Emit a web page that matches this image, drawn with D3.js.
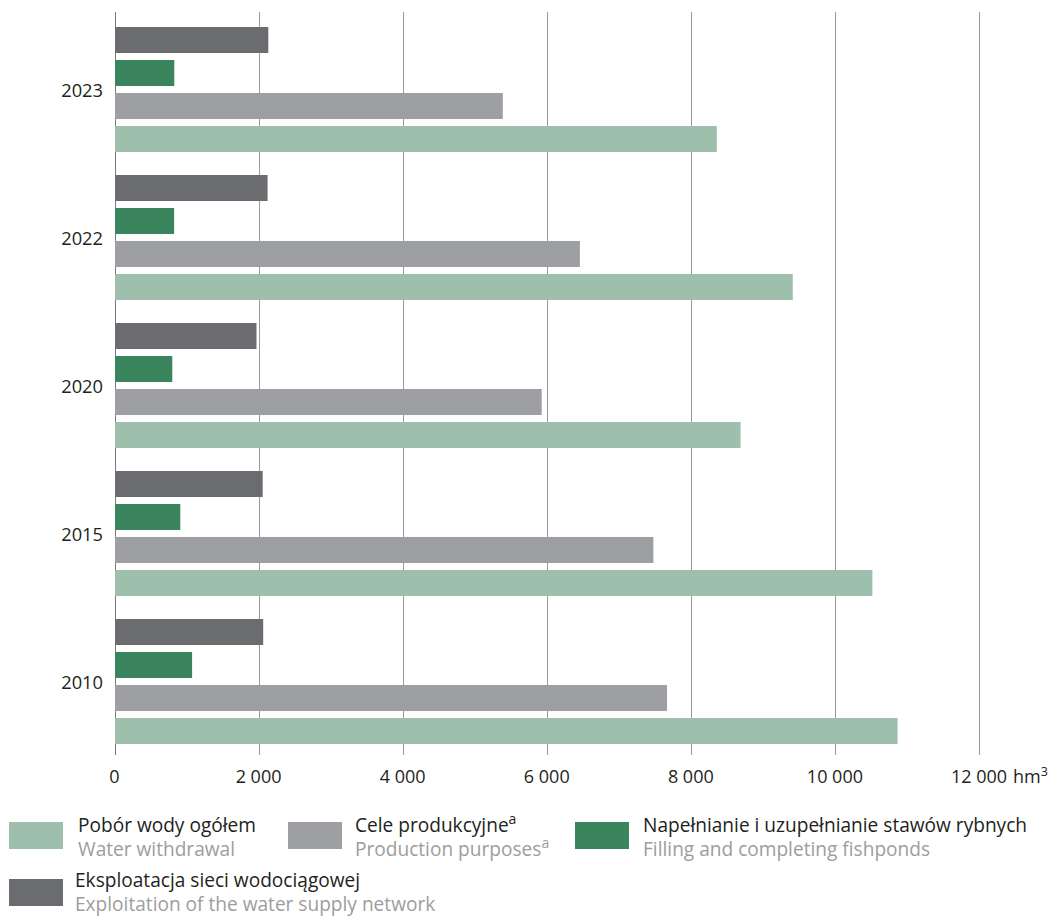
<!DOCTYPE html>
<html><head><meta charset="utf-8">
<script src="https://cdn.jsdelivr.net/npm/d3@7"></script>
<style>
html,body{margin:0;padding:0;background:#fff;}
svg text{font-family:"Open Sans","Noto Sans",sans-serif;}
</style></head>
<body><svg id="chart" width="1052" height="916"></svg>
<script>
const years = ["2023","2022","2020","2015","2010"];
const seriesKeys = ["network","fishponds","production","total"];
const seriesPL = {total:"Pobór wody ogółem", production:"Cele produkcyjne", fishponds:"Napełnianie i uzupełnianie stawów rybnych", network:"Eksploatacja sieci wodociągowej"};
const seriesEN = {total:"Water withdrawal", production:"Production purposes", fishponds:"Filling and completing fishponds", network:"Exploitation of the water supply network"};
const totalValues      = [8360, 9415, 8690, 10520, 10870];
const productionValues = [5390, 6460, 5930, 7480, 7670];
const fishpondValues   = [830, 827, 802, 913, 1077];
const networkValues    = [2135, 2125, 1971, 2057, 2064];
const tickValues = [0,2000,4000,6000,8000,10000,12000];
const tickLabels = ["0","2 000","4 000","6 000","8 000","10 000","12 000"];
const unitLabel = "hm";
const colors = {total:"#9ebfab", production:"#9e9fa3", fishponds:"#3a855e", network:"#6b6c70"};

const valuesByKey = {total:totalValues, production:productionValues, fishponds:fishpondValues, network:networkValues};

const svg = d3.select("#chart");
const x = d3.scaleLinear().domain([0,12000]).range([114.5,979]);
const y = d3.scaleBand().domain(years).range([15.5,755.5]).paddingInner(0.1554).paddingOuter(0.0777);
const yi = d3.scaleBand().domain(seriesKeys).range([0,y.bandwidth()]).paddingInner(0.212);

// gridlines
svg.append("g").selectAll("line").data(tickValues).join("line")
  .attr("x1",d=>Math.round(x(d))+0.5).attr("x2",d=>Math.round(x(d))+0.5)
  .attr("y1",12).attr("y2",755)
  .attr("stroke",d=>d===0?"#7a7a7a":"#9a9a9a").attr("stroke-width",1);

// bars
const groups = svg.append("g").selectAll("g").data(years).join("g")
  .attr("transform",d=>`translate(0,${y(d)})`);
groups.selectAll("rect").data((yr,i)=>seriesKeys.map(k=>({k,v:valuesByKey[k][i]}))).join("rect")
  .attr("x",x(0)+0.5).attr("y",d=>yi(d.k)).attr("height",yi.bandwidth())
  .attr("width",d=>x(d.v)-x(0)-0.5).attr("fill",d=>colors[d.k]);

// year labels
svg.append("g").selectAll("text").data(years).join("text")
  .attr("x",103).attr("y",d=>y(d)+y.bandwidth()/2+7)
  .attr("text-anchor","end").attr("font-size",18.3).attr("fill","#231f20")
  .text(d=>d);

// tick labels
svg.append("g").selectAll("text").data(tickValues).join("text")
  .attr("x",d=>x(d)).attr("y",783).attr("text-anchor","middle")
  .attr("font-size",18).attr("fill","#231f20")
  .text((d,i)=>tickLabels[i]);
const unit = svg.append("text").attr("x",x(12000)+34).attr("y",783)
  .attr("font-size",18).attr("fill","#231f20");
unit.append("tspan").text(unitLabel);
unit.append("tspan").attr("dy",-7).attr("font-size",12.5).text("3");

// legend
const legendItems = [
  {k:"total", sx:9, sy:822, tx:78, ty:832, sup:false},
  {k:"production", sx:288, sy:822, tx:355, ty:832, sup:true},
  {k:"fishponds", sx:575, sy:822, tx:643, ty:832, sup:false},
  {k:"network", sx:9, sy:879, tx:75, ty:887, sup:false}
];
const lg = svg.append("g").selectAll("g").data(legendItems).join("g");
lg.append("rect").attr("x",d=>d.sx).attr("y",d=>d.sy).attr("width",54).attr("height",27)
  .attr("fill",d=>colors[d.k]);
const t1 = lg.append("text").attr("x",d=>d.tx).attr("y",d=>d.ty)
  .attr("font-size",19.1).attr("fill","#231f20");
t1.append("tspan").text(d=>seriesPL[d.k]);
t1.filter(d=>d.sup).append("tspan").attr("dy",-8).attr("font-size",14).text("a");
const t2 = lg.append("text").attr("x",d=>d.tx).attr("y",d=>d.ty+24)
  .attr("font-size",19.1).attr("fill","#9d9d9d");
t2.append("tspan").text(d=>seriesEN[d.k]);
t2.filter(d=>d.sup).append("tspan").attr("dy",-8).attr("font-size",14).text("a");
</script></body></html>
